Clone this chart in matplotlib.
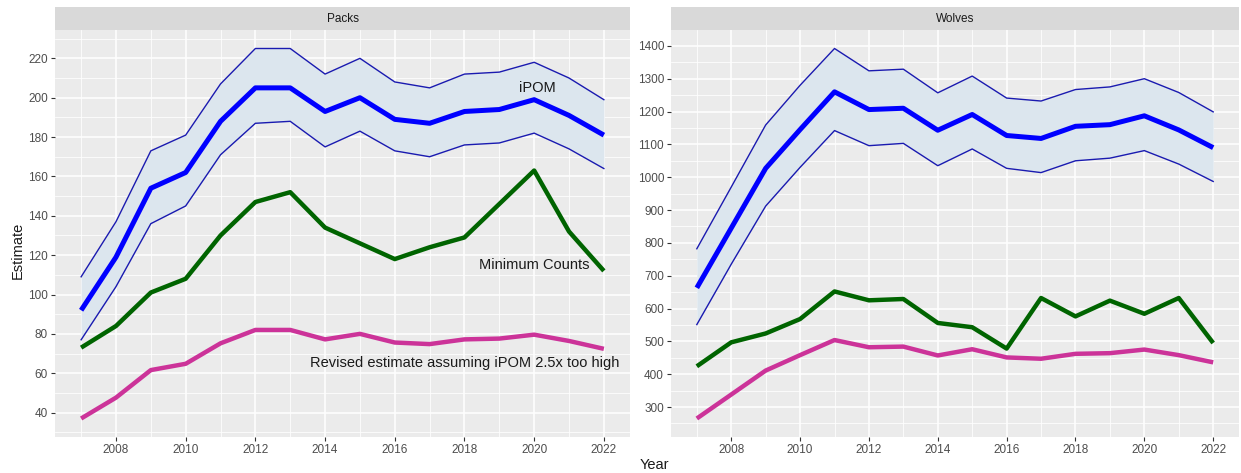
import matplotlib
matplotlib.use("Agg")
import matplotlib.pyplot as plt
import numpy as np

plt.rcParams['font.family'] = ['Liberation Sans', 'DejaVu Sans']

years = list(range(2007, 2023))

# Packs panel
packs_ipom = [92, 119, 154, 162, 188, 205, 205, 193, 200, 189, 187, 193, 194, 199, 191, 181]
packs_upper = [109, 137, 173, 181, 207, 225, 225, 212, 220, 208, 205, 212, 213, 218, 210, 199]
packs_lower = [77, 104, 136, 145, 171, 187, 188, 175, 183, 173, 170, 176, 177, 182, 174, 164]
packs_min = [73, 84, 101, 108, 130, 147, 152, 134, 126, 118, 124, 129, 146, 163, 132, 112]
packs_revised = [37, 47.6, 61.6, 64.8, 75.2, 82, 82, 77.2, 80, 75.6, 74.8, 77.2, 77.6, 79.6, 76.4, 72.4]

# Wolves panel
wolves_ipom = [663, 845, 1027, 1145, 1260, 1206, 1210, 1143, 1191, 1127, 1118, 1155, 1160, 1187, 1144, 1090]
wolves_upper = [782, 970, 1159, 1280, 1392, 1324, 1329, 1257, 1308, 1241, 1232, 1267, 1275, 1300, 1258, 1199]
wolves_lower = [551, 735, 912, 1030, 1142, 1096, 1103, 1035, 1086, 1027, 1014, 1050, 1058, 1081, 1040, 987]
wolves_min = [424, 497, 524, 568, 652, 625, 629, 556, 543, 478, 632, 576, 624, 584, 632, 495]
wolves_revised = [265, 338, 411, 458, 504, 482, 484, 457, 476, 451, 447, 462, 464, 475, 458, 436]

W, H = 1241, 473
fig = plt.figure(figsize=(W / 100, H / 100), dpi=100)


def px_axes(x0, y0, x1, y1):
    return fig.add_axes([x0 / W, 1 - y1 / H, (x1 - x0) / W, (y1 - y0) / H])


def draw_panel(x0, x1, title, ipom, upper, lower, mn, rev, yticks, yminor):
    ax = px_axes(x0, 30, x1, 437)
    ax.set_facecolor('#EBEBEB')
    for s in ax.spines.values():
        s.set_visible(False)
    ax.fill_between(years, lower, upper, color='#DCE6EE', lw=0, zorder=2)
    ax.plot(years, upper, color='#1a1ab0', lw=1.0, zorder=3)
    ax.plot(years, lower, color='#1a1ab0', lw=1.0, zorder=3)
    ax.plot(years, ipom, color='#0000FF', lw=3.6, zorder=4, solid_capstyle='butt')
    ax.plot(years, mn, color='#006400', lw=3.2, zorder=4, solid_capstyle='butt')
    ax.plot(years, rev, color='#CC3399', lw=3.2, zorder=4, solid_capstyle='butt')

    allv = upper + lower + mn + rev
    lo, hi = min(allv), max(allv)
    pad = (hi - lo) * 0.05
    ax.set_ylim(lo - pad, hi + pad)
    ax.set_xlim(2006.25, 2022.75)

    ax.set_xticks(list(range(2008, 2023, 2)))
    ax.set_xticks(list(range(2007, 2023, 2)), minor=True)
    ax.set_yticks(yticks)
    ax.set_yticks(yminor, minor=True)
    ax.grid(which='major', color='white', lw=1.1, zorder=0)
    ax.grid(which='minor', color='white', lw=0.55, zorder=0)
    ax.set_axisbelow(True)
    ax.tick_params(which='major', length=3, width=0.8, color='#333333',
                   labelcolor='#4D4D4D', labelsize=8.5, pad=2)
    ax.tick_params(which='minor', length=0)

    strip = px_axes(x0, 7, x1, 30)
    strip.set_facecolor('#D9D9D9')
    strip.set_xticks([])
    strip.set_yticks([])
    for s in strip.spines.values():
        s.set_visible(False)
    strip.text(0.5, 0.5, title, ha='center', va='center', fontsize=8.5,
               color='#1A1A1A', transform=strip.transAxes)
    return ax


ax1 = draw_panel(55, 630, 'Packs', packs_ipom, packs_upper, packs_lower, packs_min, packs_revised,
                 list(range(40, 221, 20)), list(range(30, 231, 20)))
ax2 = draw_panel(671, 1239, 'Wolves', wolves_ipom, wolves_upper, wolves_lower, wolves_min, wolves_revised,
                 list(range(300, 1401, 100)), list(range(250, 1401, 100)))

ax1.text(2020.1, 205, 'iPOM', ha='center', va='center', fontsize=10.5, color='#1A1A1A', zorder=5)
ax1.text(2020.0, 115, 'Minimum Counts', ha='center', va='center', fontsize=10.5, color='#1A1A1A', zorder=5)
ax1.text(2018.0, 65, 'Revised estimate assuming iPOM 2.5x too high', ha='center', va='center',
         fontsize=10.5, color='#1A1A1A', zorder=5, clip_on=False)

fig.text(18 / W, 1 - 250 / H, 'Estimate', rotation=90, ha='center', va='center', fontsize=10.5, color='#1A1A1A')
fig.text(654 / W, 1 - 465 / H, 'Year', ha='center', va='center', fontsize=10.5, color='#1A1A1A')

fig.savefig('out.png', dpi=100)
